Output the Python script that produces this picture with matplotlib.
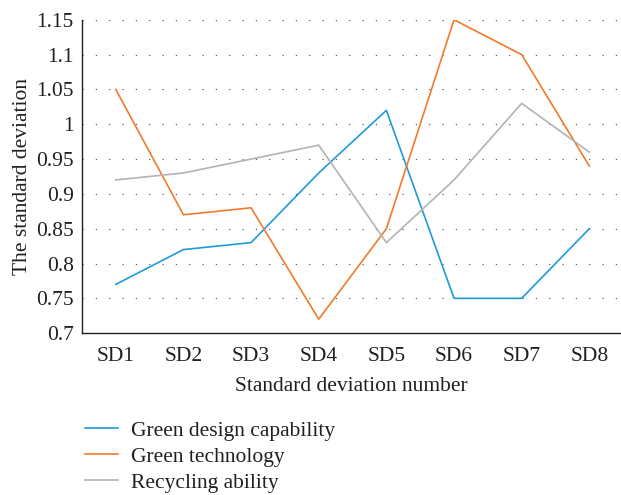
import matplotlib.pyplot as plt
from matplotlib.ticker import FuncFormatter

plt.rcParams['font.family'] = ['Liberation Serif', 'DejaVu Serif']

categories = ['SD1', 'SD2', 'SD3', 'SD4', 'SD5', 'SD6', 'SD7', 'SD8']
green_design = [0.77, 0.82, 0.83, 0.93, 1.02, 0.75, 0.75, 0.85]
green_tech = [1.05, 0.87, 0.88, 0.72, 0.85, 1.15, 1.10, 0.94]
recycling = [0.92, 0.93, 0.95, 0.97, 0.83, 0.92, 1.03, 0.96]
y_ticks = [0.7, 0.75, 0.8, 0.85, 0.9, 0.95, 1.0, 1.05, 1.1, 1.15]

fs = 15.5
fig = plt.figure(figsize=(6.21, 4.95), dpi=100)
ax = fig.add_axes([0.132, 0.327, 0.866, 0.633])

x = range(len(categories))
ax.plot(x, green_design, color='#1e9bd7', lw=1.2, label='Green design capability')
ax.plot(x, green_tech, color='#f27a2c', lw=1.2, label='Green technology')
ax.plot(x, recycling, color='#b3b3b3', lw=1.2, label='Recycling ability')

ax.set_xlim(-0.5, 7.45)
ax.set_ylim(0.7, 1.15)
ax.set_xticks(list(x))
ax.set_xticklabels(categories)
ax.set_yticks(y_ticks)
ax.yaxis.set_major_formatter(FuncFormatter(lambda v, p: '{:g}'.format(round(v, 2))))
ax.tick_params(length=0, labelsize=fs, colors='#231f20', pad=6)
ax.tick_params(axis='x', pad=10)
ax.grid(axis='y', color='#444444', linestyle=(0, (1, 11)), linewidth=0.8)
ax.set_axisbelow(True)
for s in ['top', 'right']:
    ax.spines[s].set_visible(False)
for s in ['left', 'bottom']:
    ax.spines[s].set_color('#231f20')
    ax.spines[s].set_linewidth(1.0)

ax.set_xlabel('Standard deviation number', fontsize=fs, color='#231f20', labelpad=8)
ax.set_ylabel('The standard deviation', fontsize=fs, color='#231f20', labelpad=3)

ax.legend(loc='upper left', bbox_to_anchor=(0.137, 0.15), bbox_transform=fig.transFigure,
          frameon=False, borderpad=0, borderaxespad=0,
          fontsize=fs, handlelength=1.55, handletextpad=0.6, labelspacing=0.27,
          labelcolor='#231f20')

fig.savefig('out.png', dpi=100)
